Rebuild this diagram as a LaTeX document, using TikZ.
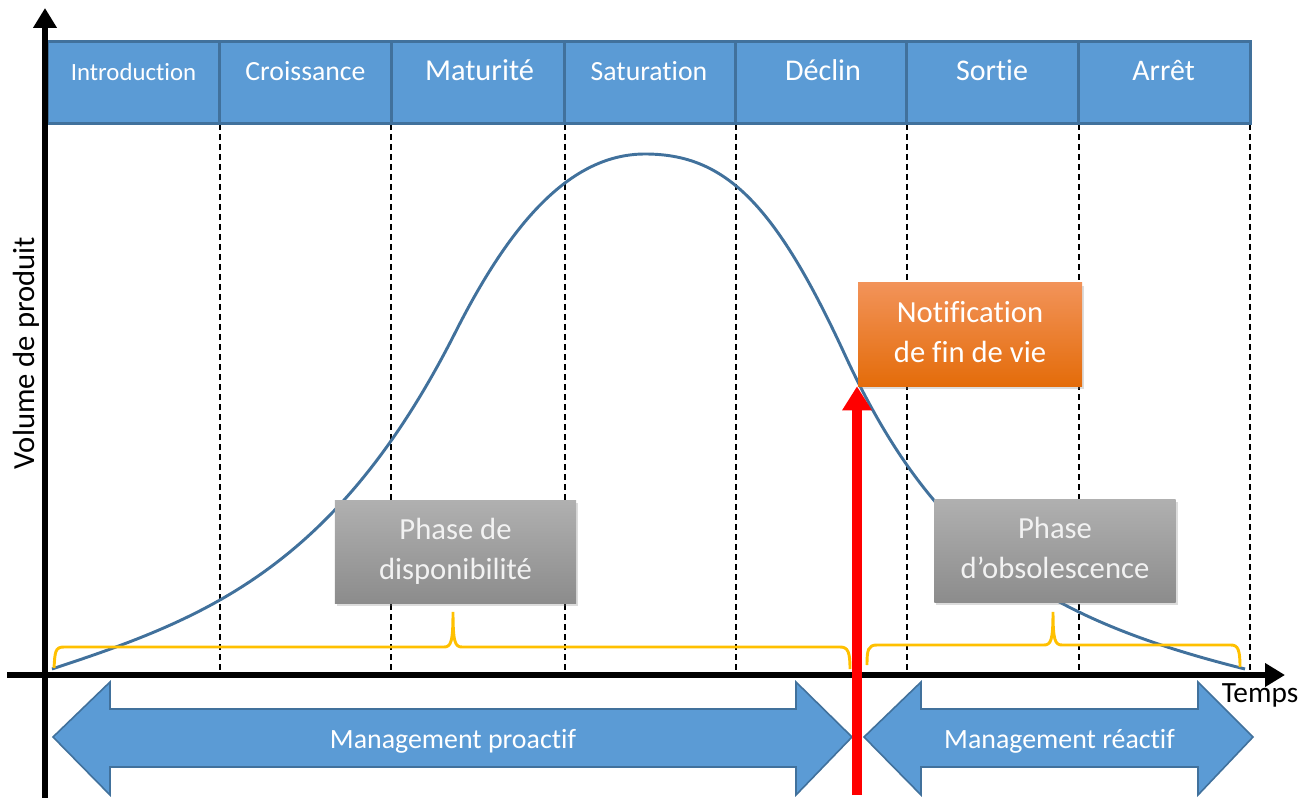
\documentclass[tikz,border=0pt]{standalone}
\usepackage{fontspec}
\setmainfont{Carlito}[Ligatures=NoCommon]
\usetikzlibrary{arrows.meta,shadows}
\definecolor{hdr}{HTML}{5B9BD5}
\definecolor{hdrline}{HTML}{41719C}
\definecolor{curvec}{HTML}{41719C}
\definecolor{bracec}{HTML}{FFC000}
\definecolor{orTop}{HTML}{F29359}
\definecolor{orBot}{HTML}{E46C0A}
\definecolor{grTop}{HTML}{B0B0B0}
\definecolor{grBot}{HTML}{8C8C8C}
\definecolor{grText}{HTML}{F2F2F2}
\definecolor{redc}{HTML}{FF0000}
\begin{document}
\begin{tikzpicture}[x=0.75pt,y=-0.75pt,
  cell/.style={draw=hdrline, fill=hdr, line width=2.25pt, minimum width=129.5pt, minimum height=61.5pt, inner sep=0pt},
  hdrtext/.style={text=white, anchor=base, inner sep=0pt},
  dashline/.style={black, line width=1.1pt, dash pattern=on 4.5pt off 3pt},
  curveline/.style={curvec, line width=2.2pt},
  bracestyle/.style={draw=bracec, line width=2.2pt},
  axisline/.style={black, line width=4.5pt, -{Triangle[length=15pt,width=17pt]}},
  bigarrow/.style={draw=hdrline, fill=hdr, line width=1.2pt, line join=miter},
  arrowtext/.style={text=white, anchor=base, inner sep=0pt, font=\fontsize{20.9pt}{25pt}\selectfont},
  shadowed/.style={drop shadow={opacity=0.28, shadow xshift=1.5pt, shadow yshift=-2.5pt}},
  notifbox/.style={shadowed, top color=orTop, bottom color=orBot, draw=none, text=white, align=center, minimum width=168pt, minimum height=77.25pt, inner sep=0pt, font=\fontsize{23pt}{30pt}\selectfont},
  phasebox/.style={shadowed, top color=grTop, bottom color=grBot, draw=none, text=grText, align=center, minimum width=181pt, minimum height=77.25pt, inner sep=0pt, font=\fontsize{23pt}{30pt}\selectfont},
  redarrow/.style={redc, line width=7.5pt, -{Triangle[length=18pt,width=21pt]}}
]
\useasboundingbox (0,0) rectangle (1316,798);

% dashed separators
\foreach \xx in {220,391,565,736,907,1079,1250}{
  \draw[dashline] (\xx,124) -- (\xx,675);
}

% header cells
\node[cell] (c1) at (133.5,83) {};
\node[cell] (c2) at (305.5,83) {};
\node[cell] (c3) at (478,83) {};
\node[cell] (c4) at (650.5,83) {};
\node[cell] (c5) at (821.5,83) {};
\node[cell] (c6) at (993,83) {};
\node[cell] (c7) at (1164.5,83) {};
\node[hdrtext, font=\fontsize{18.6pt}{22pt}\selectfont] (t1) at (133.5,81) {Introduction};
\node[hdrtext, font=\fontsize{20.8pt}{25pt}\selectfont] (t2) at (305.5,81) {Croissance};
\node[hdrtext, font=\fontsize{22.8pt}{27pt}\selectfont] (t3) at (479.5,81) {Maturité};
\node[hdrtext, font=\fontsize{20.8pt}{25pt}\selectfont] (t4) at (649,81) {Saturation};
\node[hdrtext, font=\fontsize{22.6pt}{27pt}\selectfont] (t5) at (823,81) {Déclin};
\node[hdrtext, font=\fontsize{22.5pt}{27pt}\selectfont] (t6) at (992,81) {Sortie};
\node[hdrtext, font=\fontsize{22.4pt}{27pt}\selectfont] (t7) at (1163.5,81) {Arrêt};

% product curve
\draw[curveline] (52,669) .. controls (202,619.5) and (335,570) .. (455,333)
  .. controls (505,234) and (565,154) .. (645,154)
  .. controls (725,154) and (775,203.1) .. (845,355)
  .. controls (935,550.3) and (1045,619) .. (1245,669);

% braces
\draw[bracestyle] (54,668) .. controls (55,652) and (55,647) .. (64,647) -- (444,647)
  .. controls (451,647) and (453,642) .. (453,612)
  .. controls (453,642) and (455,647) .. (462,647) -- (840,647)
  .. controls (848,647) and (850,652) .. (850,669);
\draw[bracestyle] (867,665) .. controls (867,650) and (868,645) .. (877,645) -- (1044,645)
  .. controls (1051,645) and (1053,640) .. (1053,612)
  .. controls (1053,640) and (1055,645) .. (1062,645) -- (1231,645)
  .. controls (1238,645) and (1240,650) .. (1240,667);

% boxes
\node[notifbox] (notif) at (970,334.5) {Notification\\de fin de vie\vphantom{p}};
\node[phasebox] (dispo) at (455.5,551.5) {Phase de\\disponibilité};
\node[phasebox] (obso) at (1055,550.5) {Phase\\d’obsolescence\vphantom{p}};

% axes
\coordinate (ybot) at (45,798);
\coordinate (ytop) at (45,8);
\coordinate (xleft) at (7,675);
\coordinate (xright) at (1285,675);
\draw[axisline] (ybot) -- (ytop);
\draw[axisline] (xleft) -- (xright);
\node[anchor=base, inner sep=0pt, font=\fontsize{22pt}{26pt}\selectfont] (temps) at (1260,702) {Temps};
\node[rotate=90, anchor=base, inner sep=0pt, font=\fontsize{23pt}{27pt}\selectfont] (vol) at (34,353) {Volume de produit};

% management arrows
\draw[bigarrow] (53,737) -- (110,682) -- (110,709) -- (796,709) -- (796,682) -- (852,737)
  -- (796,795) -- (796,767) -- (110,767) -- (110,795) -- cycle;
\draw[bigarrow] (864,737) -- (921,682) -- (921,709) -- (1198,709) -- (1198,682) -- (1253,737)
  -- (1198,795) -- (1198,767) -- (921,767) -- (921,795) -- cycle;
\node[arrowtext] (mp) at (453,748) {Management proactif};
\node[arrowtext] (mr) at (1059.5,748) {Management réactif};

% end-of-life notification arrow
\coordinate (redbase) at (857,795);
\draw[redarrow] (redbase) -- (redbase |- notif.south west);
\end{tikzpicture}
\end{document}
